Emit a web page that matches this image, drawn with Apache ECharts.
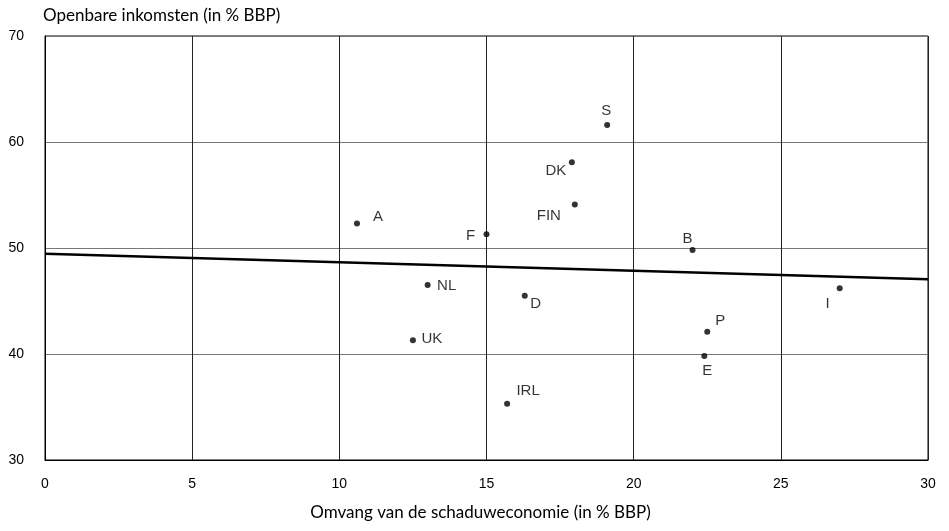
<!DOCTYPE html>
<html>
<head>
<meta charset="utf-8">
<script src="https://cdn.jsdelivr.net/npm/echarts@6/dist/echarts.min.js"></script>
<style>
html,body{margin:0;padding:0;background:#fff;}
#chart{width:949px;height:531px;}
</style>
</head>
<body>
<div id="chart"></div>
<script>
// Data
var countries = ['S', 'DK', 'FIN', 'F', 'A', 'NL', 'D', 'UK', 'IRL', 'B', 'P', 'E', 'I'];
var shadowEconomy = [19.1, 17.9, 18.0, 15.0, 10.6, 13.0, 16.3, 12.5, 15.7, 22.0, 22.5, 22.4, 27.0];
var publicRevenue = [61.6, 58.1, 54.1, 51.3, 52.3, 46.5, 45.5, 41.3, 35.3, 49.8, 42.1, 39.8, 46.2];
var trendX = [0, 30];
var trendY = [49.45, 47.05];
var xTicks = [0, 5, 10, 15, 20, 25, 30];
var yTicks = [30, 40, 50, 60, 70];

// Label placement (layout only, pixel offsets from each dot)
var labelOffsets = {
  'S': [-1, -14], 'DK': [-16, 9], 'FIN': [-26, 11], 'F': [-16, 2],
  'A': [21, -7], 'NL': [19, 1], 'D': [11, 8], 'UK': [19, -1],
  'IRL': [21, -13], 'B': [-5, -11], 'P': [13, -11], 'E': [3, 15], 'I': [-12, 16]
};

var pts = countries.map(function (c, i) {
  return {
    name: c,
    value: [shadowEconomy[i], publicRevenue[i]],
    label: { offset: labelOffsets[c] }
  };
});
var trend = trendX.map(function (x, i) { return [x, trendY[i]]; });

var chart = echarts.init(document.getElementById('chart'), null, { renderer: 'canvas' });
var titleFont = 'Lato, "Open Sans", sans-serif';
var labelFont = '"Liberation Sans", Arial, sans-serif';
chart.setOption({
  animation: false,
  backgroundColor: '#fff',
  grid: { left: 45, right: 21, top: 36, bottom: 71, show: true, borderColor: '#000', borderWidth: 1 },
  xAxis: {
    type: 'value', min: xTicks[0], max: xTicks[xTicks.length - 1], interval: 5,
    name: 'Omvang van de schaduweconomie (in % BBP)',
    nameLocation: 'middle', nameGap: 44,
    nameTextStyle: { fontFamily: titleFont, fontSize: 17, color: '#000', padding: [0, 12, 0, 0] },
    axisLine: { show: true, lineStyle: { color: '#000', width: 1 } },
    axisTick: { show: false },
    axisLabel: { margin: 17, fontFamily: labelFont, fontSize: 14, color: '#000' },
    splitLine: { show: true, lineStyle: { color: '#222', width: 1 } }
  },
  yAxis: {
    type: 'value', min: yTicks[0], max: yTicks[yTicks.length - 1], interval: 10,
    name: 'Openbare inkomsten (in % BBP)',
    nameLocation: 'end', nameGap: 12,
    nameTextStyle: { fontFamily: titleFont, fontSize: 17, color: '#000', align: 'left', padding: [0, 0, 0, -2] },
    axisLine: { show: true, lineStyle: { color: '#000', width: 1 } },
    axisTick: { show: false },
    axisLabel: { margin: 21, fontFamily: labelFont, fontSize: 14, color: '#000' },
    splitLine: { show: true, lineStyle: { color: '#777', width: 1 } }
  },
  series: [
    {
      type: 'line', data: trend, symbol: 'none', silent: true,
      lineStyle: { color: '#000', width: 2.5 }, z: 3
    },
    {
      type: 'scatter', data: pts, symbol: 'circle', symbolSize: 6,
      itemStyle: { color: '#000' }, z: 4,
      label: {
        show: true, position: 'inside', formatter: '{b}',
        fontFamily: labelFont, fontSize: 15, color: '#000',
        align: 'center', verticalAlign: 'middle'
      }
    }
  ]
});
</script>
</body>
</html>
